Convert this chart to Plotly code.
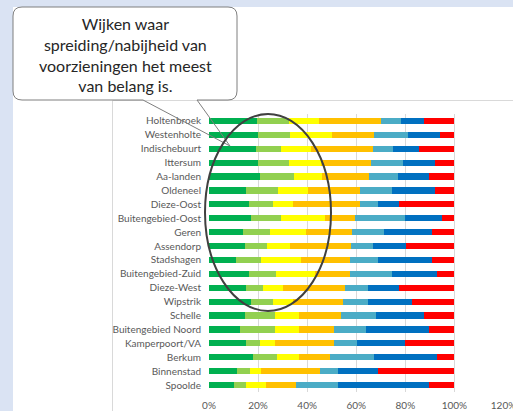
import plotly.graph_objects as go

wijken = [
    "Holtenbroek", "Westenholte", "Indischebuurt", "Ittersum", "Aa-landen",
    "Oldeneel", "Dieze-Oost", "Buitengebied-Oost", "Geren", "Assendorp",
    "Stadshagen", "Buitengebied-Zuid", "Dieze-West", "Wipstrik", "Schelle",
    "Buitengebied Noord", "Kamperpoort/VA", "Berkum", "Binnenstad", "Spoolde",
]

# share per answer category (percent), one list per colour, in wijken order
cat1 = [19.4, 19.9, 19.1, 19.9, 20.7, 15.0, 16.1, 17.1, 13.8, 14.5,
        11.2, 16.2, 15.0, 17.1, 14.6, 12.7, 14.9, 17.9, 11.5, 10.2]
cat2 = [13.1, 13.0, 10.2, 12.6, 14.0, 13.0, 10.1, 12.2, 11.0, 9.1,
        9.9, 11.0, 7.2, 9.0, 12.1, 14.0, 5.8, 9.9, 5.0, 5.0]
cat3 = [12.4, 17.1, 12.2, 13.3, 11.5, 12.4, 7.9, 18.1, 14.6, 9.5,
        16.3, 15.8, 7.9, 8.2, 10.0, 10.0, 6.1, 8.9, 4.6, 8.0]
cat4 = [25.3, 17.1, 25.2, 20.3, 18.8, 21.0, 27.3, 11.9, 19.0, 24.6,
        20.1, 14.3, 25.2, 20.2, 17.2, 14.4, 24.3, 12.5, 24.3, 12.2]
cat5 = [8.1, 13.9, 8.1, 12.9, 12.0, 13.3, 7.3, 20.4, 13.0, 9.0,
        11.2, 17.4, 9.3, 10.3, 14.0, 13.0, 9.1, 17.9, 7.0, 17.0]
cat6 = [9.2, 13.0, 10.8, 12.9, 12.8, 17.2, 8.9, 15.3, 19.5, 13.6,
        22.1, 18.2, 13.0, 18.0, 19.9, 25.6, 19.7, 25.9, 16.4, 37.4]
cat7 = [12.5, 6.0, 14.4, 8.1, 10.2, 8.1, 22.4, 5.0, 9.1, 19.7,
        9.2, 7.1, 22.4, 17.2, 12.2, 10.3, 20.1, 7.0, 31.2, 10.2]

series = [cat1, cat2, cat3, cat4, cat5, cat6, cat7]
colors = ["#00b050", "#92d050", "#ffff00", "#ffc000", "#4bacc6", "#0070c0", "#ff0000"]

x_ticks = [0, 20, 40, 60, 80, 100, 120]
x_labels = ["0%", "20%", "40%", "60%", "80%", "100%", "120%"]
callout_text = "Wijken waar<br>spreiding/nabijheid van<br>voorzieningen het meest<br>van belang is."

W, H = 513, 411
L, R, T, B = 209, 9, 114, 19
PW, PH = W - L - R, H - T - B


def px(x):
    return (x - L) / PW


def py(y):
    return 1 - (y - T) / PH


fig = go.Figure()
for i, (vals, col) in enumerate(zip(series, colors)):
    fig.add_trace(go.Bar(y=wijken, x=vals, orientation="h", name=f"{i + 1}",
                         marker=dict(color=col, line_width=0)))

r = 9
x0, x1, y0, y1 = 13, 237, 7, 100
callout = (
    f"M {px(x0 + r)},{py(y0)} L {px(x1 - r)},{py(y0)} "
    f"Q {px(x1)},{py(y0)} {px(x1)},{py(y0 + r)} L {px(x1)},{py(y1 - r)} "
    f"Q {px(x1)},{py(y1)} {px(x1 - r)},{py(y1)} L {px(197)},{py(y1)} "
    f"L {px(230)},{py(146)} L {px(143)},{py(y1)} L {px(x0 + r)},{py(y1)} "
    f"Q {px(x0)},{py(y1)} {px(x0)},{py(y1 - r)} L {px(x0)},{py(y0 + r)} "
    f"Q {px(x0)},{py(y0)} {px(x0 + r)},{py(y0)} Z"
)

shapes = [
    dict(type="rect", xref="paper", yref="paper", x0=px(13), x1=px(514), y0=py(7), y1=py(412),
         fillcolor="white", line_width=0, layer="below"),
    dict(type="line", xref="paper", yref="paper", x0=px(112.5), x1=px(112.5), y0=py(100.5), y1=py(412),
         line=dict(color="#d9d9d9", width=1), layer="below"),
    dict(type="line", xref="paper", yref="paper", x0=px(112.5), x1=px(514), y0=py(100.5), y1=py(100.5),
         line=dict(color="#d9d9d9", width=1), layer="below"),
    dict(type="path", xref="paper", yref="paper", path=callout,
         line=dict(color="#7f7f7f", width=1), fillcolor="rgba(0,0,0,0)"),
    dict(type="circle", xref="paper", yref="paper", x0=px(205), x1=px(331), y0=py(114), y1=py(311),
         line=dict(color="#404040", width=2)),
]

fig.update_layout(
    width=W, height=H,
    margin=dict(l=L, r=R, t=T, b=B),
    barmode="stack", bargap=0.55,
    showlegend=False,
    paper_bgcolor="#dae3f3", plot_bgcolor="rgba(0,0,0,0)",
    font=dict(family="Lato", size=10, color="#595959"),
    shapes=shapes,
    annotations=[dict(xref="paper", yref="paper", x=px(125), y=py(54), text=callout_text,
                      xanchor="center", yanchor="middle",
                      showarrow=False, align="center",
                      font=dict(family="Lato", size=16, color="#262626"))],
    xaxis=dict(range=[0, 120.2], tickvals=x_ticks, ticktext=x_labels, showgrid=True,
               gridcolor="#d9d9d9", gridwidth=1, zeroline=False, showline=False,
               ticklabelstandoff=6, ticklabeloverflow="allow", automargin=False,
               fixedrange=True),
    yaxis=dict(autorange="reversed", showgrid=False, zeroline=False, showline=False,
               ticklabelstandoff=7, automargin=False, fixedrange=True),
)

fig.write_html("out.html", config={"displayModeBar": False},
               post_script="document.body.style.margin='0';")
